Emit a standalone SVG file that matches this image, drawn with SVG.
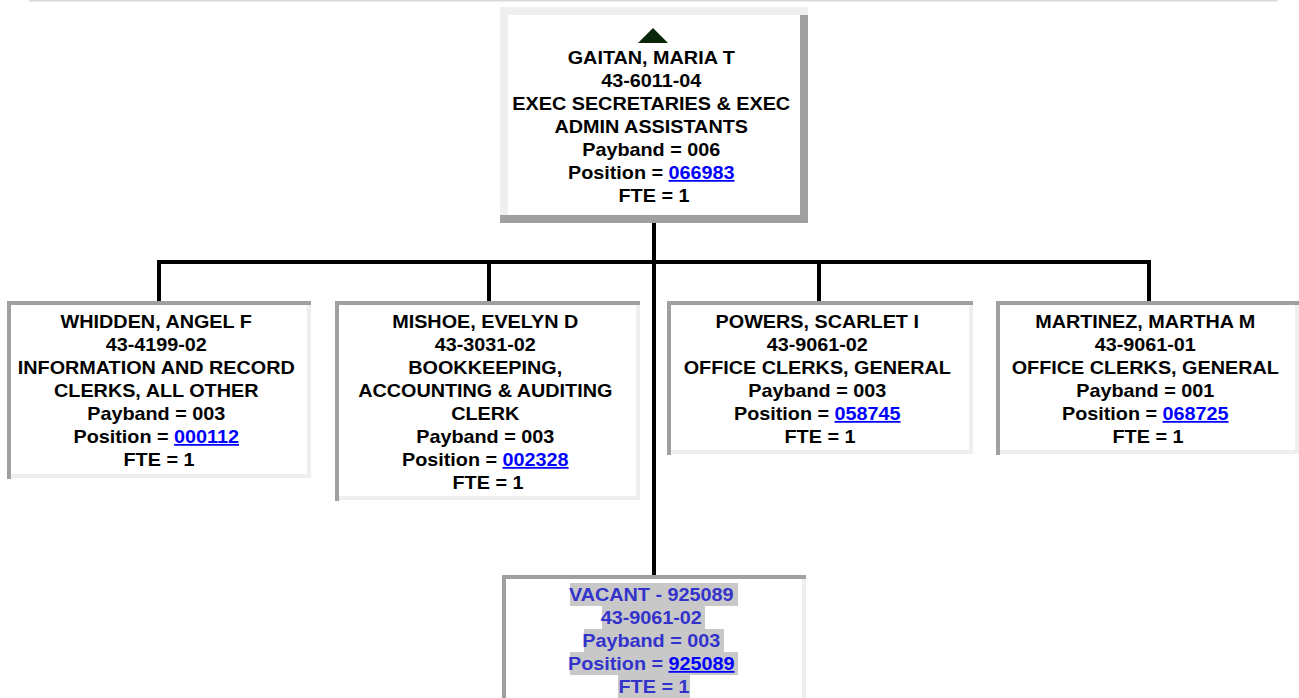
<svg xmlns="http://www.w3.org/2000/svg" width="1299" height="698" viewBox="0 0 1299 698">
<style>
.lt{fill:#efefef}
.dk{fill:#a0a0a0}
.bg{fill:#ffffff}
.t{font-family:"Liberation Sans",Arial,Helvetica,sans-serif;font-weight:bold;font-size:18px;text-anchor:middle;fill:#000}
.lnk{fill:#0000ff;text-decoration:underline}
.vac{fill:#3333cc}
.hl{fill:#c8c8c8}
.conn{fill:none;stroke:#000;stroke-width:4;stroke-linejoin:miter;stroke-linecap:butt}
</style>
<rect x="0" y="0" width="1299" height="698" fill="#ffffff"/>
<rect x="29" y="0" width="1249" height="1.5" fill="#d9d9d9"/>

<g id="connectors">
<path class="conn" d="M159,301 V262 H1149 V301"/>
<path class="conn" d="M489,262 V301"/>
<path class="conn" d="M819,262 V301"/>
<path class="conn" d="M654,223 V575"/>
</g>

<g id="node-gaitan">
<rect class="bg" x="500" y="7" width="308" height="216"/>
<rect class="lt" x="500" y="7" width="8" height="216"/>
<rect class="dk" x="500" y="215" width="308" height="8"/>
<rect class="dk" x="800" y="15" width="8" height="208"/>
<rect class="lt" x="500" y="7" width="308" height="8"/>
<polygon points="653,28 668,43 638,43" fill="#0a260a"/>
<text class="t" transform="translate(654,0) scale(1.1,1)">
<tspan x="0" y="64">GAITAN, MARIA T</tspan>
<tspan x="0" y="87">43-6011-04</tspan>
<tspan x="0" y="110">EXEC SECRETARIES &amp; EXEC</tspan>
<tspan x="0" y="133">ADMIN ASSISTANTS</tspan>
<tspan x="0" y="156">Payband = 006</tspan>
<tspan x="0" y="179">Position = <tspan class="lnk">066983</tspan></tspan>
<tspan x="0" y="202">FTE = 1</tspan>
</text>
</g>

<g id="node-whidden">
<rect class="bg" x="7" y="301" width="304" height="177"/>
<rect class="lt" x="11" y="474" width="300" height="4"/>
<rect class="lt" x="307" y="301" width="4" height="177"/>
<rect class="dk" x="7" y="301" width="304" height="4"/>
<rect class="dk" x="7" y="301" width="4" height="178"/>
<text class="t" transform="translate(159,0) scale(1.1,1)">
<tspan x="0" y="328">WHIDDEN, ANGEL F</tspan>
<tspan x="0" y="351">43-4199-02</tspan>
<tspan x="0" y="374">INFORMATION AND RECORD</tspan>
<tspan x="0" y="397">CLERKS, ALL OTHER</tspan>
<tspan x="0" y="420">Payband = 003</tspan>
<tspan x="0" y="443">Position = <tspan class="lnk">000112</tspan></tspan>
<tspan x="0" y="466">FTE = 1</tspan>
</text>
</g>

<g id="node-mishoe">
<rect class="bg" x="335" y="301" width="305" height="199"/>
<rect class="lt" x="339" y="496" width="301" height="4"/>
<rect class="lt" x="636" y="301" width="4" height="199"/>
<rect class="dk" x="335" y="301" width="305" height="4"/>
<rect class="dk" x="335" y="301" width="4" height="200"/>
<text class="t" transform="translate(488,0) scale(1.1,1)">
<tspan x="0" y="328">MISHOE, EVELYN D</tspan>
<tspan x="0" y="351">43-3031-02</tspan>
<tspan x="0" y="374">BOOKKEEPING,</tspan>
<tspan x="0" y="397">ACCOUNTING &amp; AUDITING</tspan>
<tspan x="0" y="420">CLERK</tspan>
<tspan x="0" y="443">Payband = 003</tspan>
<tspan x="0" y="466">Position = <tspan class="lnk">002328</tspan></tspan>
<tspan x="0" y="489">FTE = 1</tspan>
</text>
</g>

<g id="node-powers">
<rect class="bg" x="667" y="301" width="306" height="153"/>
<rect class="lt" x="671" y="450" width="302" height="4"/>
<rect class="lt" x="969" y="301" width="4" height="153"/>
<rect class="dk" x="667" y="301" width="306" height="4"/>
<rect class="dk" x="667" y="301" width="4" height="154"/>
<text class="t" transform="translate(820,0) scale(1.1,1)">
<tspan x="0" y="328">POWERS, SCARLET I</tspan>
<tspan x="0" y="351">43-9061-02</tspan>
<tspan x="0" y="374">OFFICE CLERKS, GENERAL</tspan>
<tspan x="0" y="397">Payband = 003</tspan>
<tspan x="0" y="420">Position = <tspan class="lnk">058745</tspan></tspan>
<tspan x="0" y="443">FTE = 1</tspan>
</text>
</g>

<g id="node-martinez">
<rect class="bg" x="996" y="301" width="303" height="153"/>
<rect class="lt" x="1000" y="450" width="299" height="4"/>
<rect class="lt" x="1295" y="301" width="4" height="153"/>
<rect class="dk" x="996" y="301" width="303" height="4"/>
<rect class="dk" x="996" y="301" width="4" height="154"/>
<text class="t" transform="translate(1148,0) scale(1.1,1)">
<tspan x="0" y="328">MARTINEZ, MARTHA M</tspan>
<tspan x="0" y="351">43-9061-01</tspan>
<tspan x="0" y="374">OFFICE CLERKS, GENERAL</tspan>
<tspan x="0" y="397">Payband = 001</tspan>
<tspan x="0" y="420">Position = <tspan class="lnk">068725</tspan></tspan>
<tspan x="0" y="443">FTE = 1</tspan>
</text>
</g>

<g id="node-vacant">
<rect class="bg" x="502" y="575" width="304" height="130"/>
<rect class="lt" x="802" y="575" width="4" height="130"/>
<rect class="dk" x="502" y="575" width="304" height="4"/>
<rect class="dk" x="502" y="575" width="4" height="130"/>
<rect class="hl" x="570" y="583" width="168" height="23"/>
<rect class="hl" x="602" y="606" width="103" height="23"/>
<rect class="hl" x="584" y="629" width="140" height="23"/>
<rect class="hl" x="570" y="652" width="168" height="23"/>
<rect class="hl" x="618" y="675" width="72" height="23"/>
<text class="t vac" transform="translate(654,0) scale(1.1,1)">
<tspan x="0" y="601">VACANT - 925089</tspan>
<tspan x="0" y="624">43-9061-02</tspan>
<tspan x="0" y="647">Payband = 003</tspan>
<tspan x="0" y="670">Position = <tspan class="lnk">925089</tspan></tspan>
<tspan x="0" y="693">FTE = 1</tspan>
</text>
</g>
</svg>
